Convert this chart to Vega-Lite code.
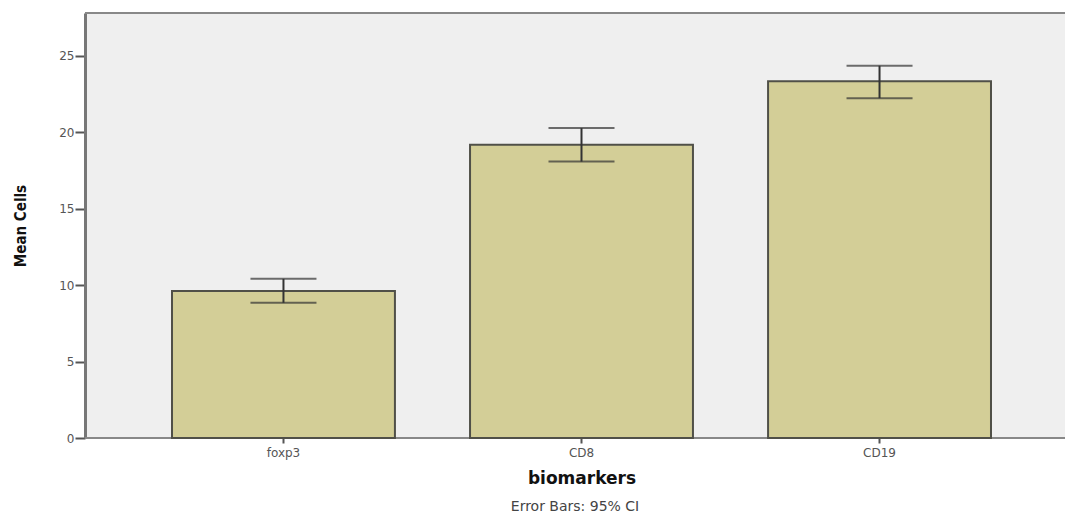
{
  "$schema": "https://vega.github.io/schema/vega-lite/v6.json",
  "autosize": "none",
  "width": 980,
  "height": 425,
  "padding": {"left": 85, "top": 13, "right": 0, "bottom": 78},
  "background": "white",
  "config": {
    "view": {"fill": "#efefef", "stroke": null},
    "font": "DejaVu Sans"
  },
  "title": {
    "text": "Error Bars: 95% CI",
    "orient": "bottom",
    "anchor": "middle",
    "fontSize": 14,
    "fontWeight": "normal",
    "color": "#444",
    "font": "DejaVu Sans",
    "offset": 14
  },
  "data": {
    "values": [
      {"marker": "foxp3", "mean": 9.62, "lo": 8.84, "hi": 10.41},
      {"marker": "CD8", "mean": 19.19, "lo": 18.08, "hi": 20.27},
      {"marker": "CD19", "mean": 23.33, "lo": 22.23, "hi": 24.35}
    ]
  },
  "encoding": {
    "x": {
      "field": "marker",
      "type": "nominal",
      "sort": ["foxp3", "CD8", "CD19"],
      "scale": {"range": [12.5, 980.5], "paddingInner": 0.252, "paddingOuter": 0.25},
      "axis": {
        "title": "biomarkers",
        "titleFont": "DejaVu Sans",
        "titleFontSize": 17,
        "titleFontWeight": "bold",
        "titleColor": "#111",
        "titlePadding": 12,
        "labelAngle": 0,
        "labelFont": "DejaVu Sans",
        "labelFontSize": 12,
        "labelColor": "#555",
        "labelPadding": 4,
        "tickColor": "#555",
        "tickSize": 5,
        "tickWidth": 2,
        "domain": false,
        "grid": false
      }
    }
  },
  "layer": [
    {
      "mark": {"type": "rule", "color": "#888", "strokeWidth": 2},
      "encoding": {"x": null, "y": {"datum": 0, "type": "quantitative"}}
    },
    {
      "mark": {"type": "bar", "fill": "#d3ce97", "stroke": "#505048", "strokeWidth": 2},
      "encoding": {
        "y": {
          "field": "mean",
          "type": "quantitative",
          "scale": {"domain": [0, 27.8], "nice": false, "zero": true},
          "axis": {
            "title": "Mean Cells",
            "titleFont": "DejaVu Sans Condensed",
            "titleFontSize": 15,
            "titleFontWeight": "bold",
            "titleColor": "#111",
            "titlePadding": 30,
            "values": [0, 5, 10, 15, 20, 25],
            "labelFont": "DejaVu Sans",
            "labelFontSize": 12,
            "labelColor": "#555",
            "labelPadding": 1,
            "tickColor": "#555",
            "tickSize": 10,
            "tickWidth": 2,
            "domainColor": "#777",
            "domainWidth": 3,
            "grid": false
          }
        }
      }
    },
    {
      "mark": {"type": "rule", "color": "#333", "strokeWidth": 2},
      "encoding": {
        "y": {"field": "lo", "type": "quantitative"},
        "y2": {"field": "hi"}
      }
    },
    {
      "mark": {"type": "tick", "color": "#333", "thickness": 2, "size": 66, "orient": "horizontal"},
      "encoding": {"y": {"field": "lo", "type": "quantitative"}}
    },
    {
      "mark": {"type": "tick", "color": "#333", "thickness": 2, "size": 66, "orient": "horizontal"},
      "encoding": {"y": {"field": "hi", "type": "quantitative"}}
    },
    {
      "mark": {"type": "rule", "color": "#888", "strokeWidth": 2},
      "encoding": {"x": null, "y": {"datum": 27.8, "type": "quantitative"}}
    }
  ]
}
